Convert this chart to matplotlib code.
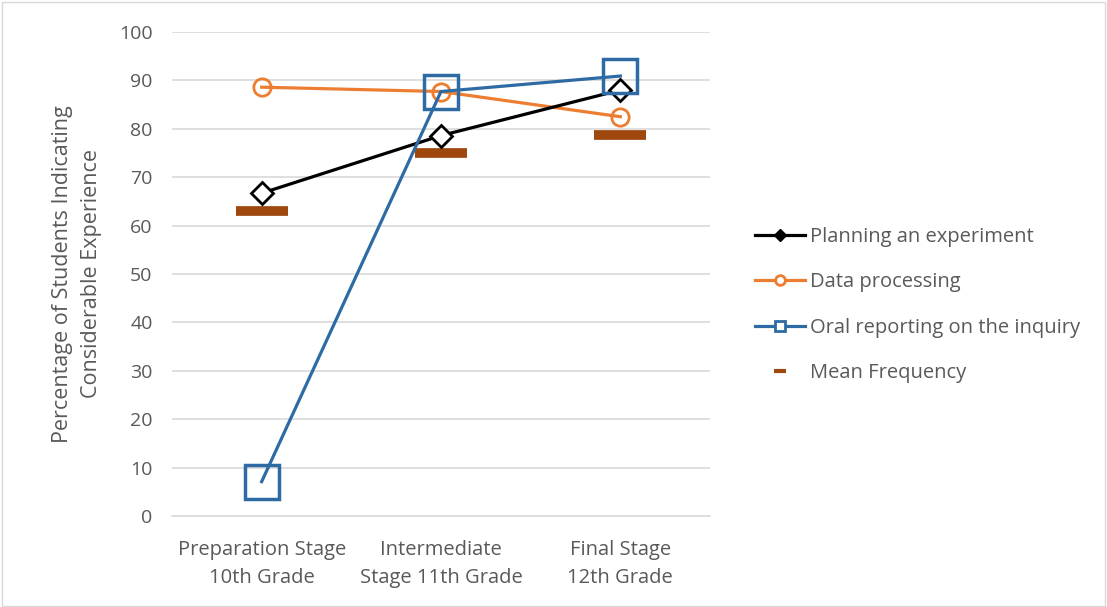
import matplotlib
matplotlib.use("Agg")
import matplotlib.pyplot as plt
from matplotlib.lines import Line2D
from matplotlib.patches import Rectangle

categories = ["Preparation Stage\n10th Grade", "Intermediate\nStage 11th Grade", "Final Stage\n12th Grade"]
planning = [66.7, 78.6, 88.0]
data_processing = [88.6, 87.7, 82.5]
oral_reporting = [7.1, 87.7, 90.9]
mean_frequency = [63.1, 75.1, 78.8]
yticks = list(range(0, 101, 10))

plt.rcParams['font.family'] = ['Open Sans', 'DejaVu Sans']
grey = '#595959'
black = '#000000'
orange = '#ED7D31'
blue = '#2E6BA4'
brown = '#9E480E'

fig = plt.figure(figsize=(11.07, 6.07), dpi=100)
fig.patches.append(Rectangle((0.002, 0.002), 0.996, 0.994, transform=fig.transFigure,
                             fill=False, edgecolor='#D9D9D9', linewidth=1))
ax = fig.add_axes([172/1107, 1-516/607, (710-172)/1107, (516-32)/607])

x = list(range(len(categories)))
ax.plot(x, planning, color=black, lw=2.3, marker='D', markersize=11.5, markerfacecolor='white',
        markeredgecolor=black, markeredgewidth=2.0, zorder=4)
ax.plot(x, data_processing, color=orange, lw=2.3, marker='o', markersize=12.5, markerfacecolor='none',
        markeredgecolor=orange, markeredgewidth=2.0, zorder=3)
ax.plot(x, oral_reporting, color=blue, lw=2.3, marker='s', markersize=24, markerfacecolor='none',
        markeredgecolor=blue, markeredgewidth=2.5, zorder=5)
ax.plot(x, mean_frequency, linestyle='none', marker='_', markersize=38, markeredgewidth=7,
        color=brown, zorder=2)

ax.set_xlim(-0.5, 2.5)
ax.set_ylim(0, 100)
ax.set_yticks(yticks)
ax.set_xticks(x)
ax.set_xticklabels(categories, fontsize=14.5, color=grey, linespacing=1.55)
ax.tick_params(axis='y', labelsize=14, colors=grey, length=0, pad=14)
ax.tick_params(axis='x', length=0, pad=17)
ax.grid(axis='y', color='#D9D9D9', linewidth=1.2)
ax.set_axisbelow(True)
for s in ['top', 'right', 'left']:
    ax.spines[s].set_visible(False)
ax.spines['bottom'].set_color('#D9D9D9')
ax.spines['bottom'].set_linewidth(1.2)

ax.set_ylabel("Percentage of Students Indicating\nConsiderable Experience", fontsize=15.5, color=grey,
              labelpad=12, linespacing=1.5)

handles = [
    Line2D([], [], color=black, lw=2.3, marker='D', markersize=6, markerfacecolor=black),
    Line2D([], [], color=orange, lw=2.3, marker='o', markersize=7, markerfacecolor='white', markeredgewidth=2),
    Line2D([], [], color=blue, lw=2.3, marker='s', markersize=7, markerfacecolor='white', markeredgewidth=2),
    Line2D([], [], linestyle='none', marker='_', markersize=9, markeredgewidth=3, color=brown),
]
labels = ["Planning an experiment", "Data processing", "Oral reporting on the inquiry", "Mean Frequency"]
leg = fig.legend(handles, labels, loc='center left', bbox_to_anchor=(737/1107, 1-305/607),
                 frameon=False, fontsize=14.5, labelcolor=grey, handlelength=2.5, handletextpad=0.2,
                 labelspacing=1.27)

fig.savefig("out.png", dpi=100)
